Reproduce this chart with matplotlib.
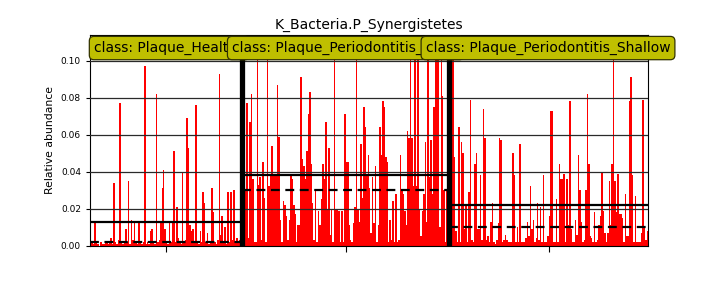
import numpy as np
import matplotlib
matplotlib.use("Agg")
import matplotlib.pyplot as plt

title = "K_Bacteria.P_Synergistetes"
classes = ["Plaque_Healthy", "Plaque_Periodontitis_Deep", "Plaque_Periodontitis_Shallow"]

healthy = [0.030, 0.002, 0.001, 0.013, 0.002, 0.001, 0.000, 0.002, 0.001, 0.001,
           0.002, 0.002, 0.001, 0.002, 0.004, 0.001, 0.034, 0.002, 0.001, 0.003,
           0.077, 0.002, 0.001, 0.002, 0.009, 0.002, 0.035, 0.001, 0.014, 0.003,
           0.013, 0.002, 0.001, 0.013, 0.002, 0.001, 0.002, 0.097, 0.001, 0.002,
           0.001, 0.008, 0.009, 0.002, 0.001, 0.082, 0.002, 0.003, 0.012, 0.031,
           0.041, 0.009, 0.002, 0.001, 0.013, 0.002, 0.013, 0.051, 0.002, 0.021,
           0.004, 0.002, 0.001, 0.040, 0.002, 0.003, 0.069, 0.053, 0.011, 0.008,
           0.009, 0.002, 0.076, 0.002, 0.001, 0.008, 0.002, 0.029, 0.023, 0.002,
           0.007, 0.001, 0.002, 0.031, 0.018, 0.002, 0.001, 0.003, 0.093, 0.006,
           0.016, 0.002, 0.010, 0.001, 0.029, 0.002, 0.029, 0.003, 0.030, 0.002,
           0.004, 0.002, 0.003, 0.001]

deep = [0.003, 0.030, 0.030, 0.077, 0.004, 0.067, 0.082, 0.036, 0.002, 0.002,
        0.116, 0.033, 0.037, 0.003, 0.045, 0.026, 0.002, 0.116, 0.032, 0.038,
        0.054, 0.039, 0.039, 0.038, 0.087, 0.059, 0.014, 0.002, 0.024, 0.022,
        0.016, 0.003, 0.014, 0.038, 0.036, 0.022, 0.017, 0.002, 0.011, 0.011,
        0.091, 0.047, 0.043, 0.036, 0.051, 0.071, 0.083, 0.044, 0.023, 0.003,
        0.030, 0.002, 0.019, 0.011, 0.025, 0.044, 0.036, 0.067, 0.020, 0.053,
        0.006, 0.020, 0.002, 0.116, 0.020, 0.020, 0.019, 0.002, 0.019, 0.002,
        0.071, 0.045, 0.045, 0.011, 0.003, 0.002, 0.012, 0.021, 0.116, 0.020,
        0.013, 0.055, 0.026, 0.075, 0.064, 0.038, 0.049, 0.031, 0.007, 0.037,
        0.012, 0.043, 0.002, 0.011, 0.064, 0.049, 0.078, 0.075, 0.048, 0.045,
        0.002, 0.014, 0.003, 0.024, 0.002, 0.028, 0.002, 0.003, 0.049, 0.030,
        0.028, 0.019, 0.011, 0.062, 0.058, 0.116, 0.058, 0.032, 0.116, 0.032,
        0.116, 0.020, 0.005, 0.019, 0.028, 0.056, 0.013, 0.116, 0.037, 0.057,
        0.028, 0.075, 0.116, 0.116, 0.116, 0.010, 0.116, 0.081, 0.030, 0.002,
        0.030, 0.032]

shallow = [0.005, 0.011, 0.115, 0.048, 0.008, 0.002, 0.064, 0.002, 0.056, 0.050,
           0.009, 0.022, 0.002, 0.029, 0.079, 0.003, 0.002, 0.044, 0.050, 0.009,
           0.009, 0.038, 0.003, 0.074, 0.058, 0.003, 0.005, 0.002, 0.013, 0.023,
           0.002, 0.001, 0.003, 0.012, 0.058, 0.057, 0.002, 0.003, 0.006, 0.003,
           0.002, 0.002, 0.002, 0.050, 0.038, 0.002, 0.010, 0.002, 0.055, 0.002,
           0.002, 0.002, 0.004, 0.013, 0.005, 0.032, 0.009, 0.014, 0.002, 0.004,
           0.023, 0.003, 0.021, 0.002, 0.038, 0.002, 0.002, 0.005, 0.016, 0.073,
           0.073, 0.002, 0.002, 0.025, 0.002, 0.044, 0.036, 0.036, 0.039, 0.002,
           0.036, 0.011, 0.078, 0.009, 0.002, 0.002, 0.014, 0.006, 0.049, 0.030,
           0.013, 0.002, 0.003, 0.030, 0.082, 0.044, 0.005, 0.004, 0.002, 0.018,
           0.002, 0.003, 0.011, 0.016, 0.040, 0.019, 0.007, 0.002, 0.007, 0.035,
           0.011, 0.044, 0.115, 0.035, 0.018, 0.039, 0.017, 0.017, 0.015, 0.002,
           0.028, 0.005, 0.005, 0.078, 0.091, 0.038, 0.002, 0.027, 0.002, 0.002,
           0.002, 0.007, 0.079, 0.010, 0.003, 0.008]

yticks = [0.00, 0.02, 0.04, 0.06, 0.08, 0.10]
ymax = 0.1139

groups = [healthy, deep, shallow]
values = np.concatenate([np.asarray(g) for g in groups])
sizes = [len(g) for g in groups]
starts = np.concatenate([[0], np.cumsum(sizes)[:-1]])
ends = np.cumsum(sizes)
n = len(values)

fig = plt.figure(figsize=(7.2, 2.88), dpi=100)
ax = fig.add_axes([0.125, 0.147, 0.775, 0.7315])

ax.bar(np.arange(n), values, width=1.0, align='edge', color='red', linewidth=0, zorder=1)
ax.set_xlim(0, n)
ax.set_ylim(0, ymax)
ax.set_yticks(yticks)
ax.tick_params(axis='y', labelsize=6.5, length=3)
ax.set_xticks((starts + ends) / 2.0)
ax.set_xticklabels([''] * len(groups))
ax.tick_params(axis='x', length=4)

for yv in yticks[1:]:
    ax.axhline(yv, color='#2a2a2a', lw=0.9, zorder=3)

for g, s, e in zip(groups, starts, ends):
    ax.hlines(np.mean(g), s, e, colors='black', lw=1.6, zorder=4)
    ax.hlines(np.median(g), s, e, colors='black', lw=1.6, linestyles=(0, (4, 2.5)), zorder=4)

for b in ends[:-1]:
    ax.axvline(b, color='black', lw=3.8, zorder=5)

label_x = [0.007, 0.2545, 0.6016]
for c, lx in zip(classes, label_x):
    ax.text(lx, 0.938, "class: " + c, transform=ax.transAxes, ha='left', va='center',
            fontsize=10, zorder=10, clip_on=False,
            bbox=dict(boxstyle='round,pad=0.33', fc='#BFBF00', ec='#333300', lw=0.9))

ax.set_ylabel("Relative abundance", fontsize=7.8)
ax.set_title(title, fontsize=10, pad=4.5)

fig.savefig("out.png", dpi=100)
